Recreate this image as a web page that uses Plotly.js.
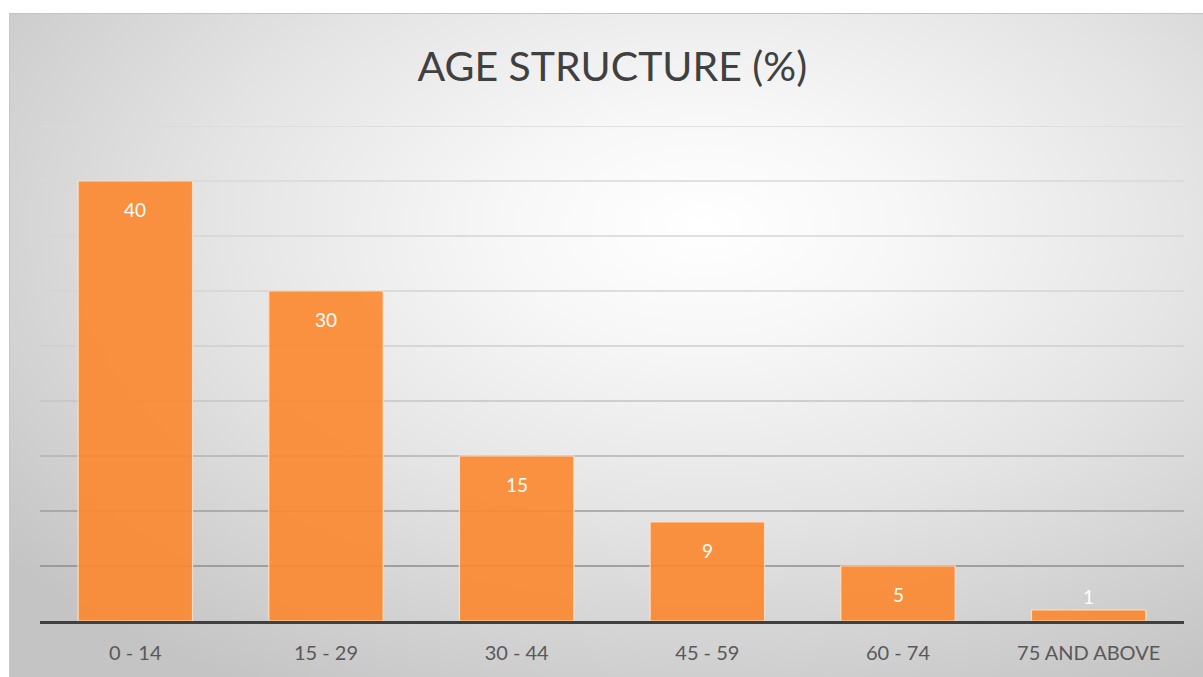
<!DOCTYPE html>
<html>
<head>
<meta charset="utf-8">
<script src="https://cdn.plot.ly/plotly-3.0.1.min.js"></script>
<style>
  html, body { margin: 0; padding: 0; background: #ffffff; }
  #wrap { position: relative; width: 1203px; height: 677px; overflow: hidden; background: #ffffff; }
  #bg { position: absolute; left: 9px; top: 13px; width: 1194px; height: 664px;
        border-top: 1px solid #c4c4c4; border-left: 1px solid #c8c8c8;
        background: radial-gradient(ellipse 75% 80% at 58% 32%, #ffffff 0%, #f7f7f7 22%, #e4e4e4 55%, #cbcbcb 90%, #c4c4c4 100%); }
  #chart { position: absolute; left: 0; top: 0; width: 1203px; height: 677px; }
</style>
</head>
<body>
<div id="wrap">
  <div id="bg"></div>
  <div id="chart"></div>
</div>
<script>
const categories = ["0 - 14", "15 - 29", "30 - 44", "45 - 59", "60 - 74", "75 AND ABOVE"];
const values = [40, 30, 15, 9, 5, 1];
const gridTicks = [5, 10, 15, 20, 25, 30, 35, 40, 45];
const gridColors = ["#8c8c8c", "#9e9e9e", "#b2b2b2", "#c4c4c4", "#cecece", "#d4d4d4", "#d6d6d6", "#d8d8d8", "#dadada"];

const FONT = "Lato, 'Open Sans', sans-serif";

const trace = {
  type: "bar",
  x: categories,
  y: values,
  marker: { color: "rgba(252,135,46,0.9)", line: { color: "rgba(255,225,200,0.9)", width: 1.2 } },
  hoverinfo: "x+y"
};

const shapes = gridTicks.map((t, i) => ({
  type: "line", xref: "paper", yref: "y", x0: 0, x1: 1, y0: t, y1: t,
  line: { color: gridColors[i], width: 1.3 }, layer: "below"
}));

const annotations = values.map((v, i) => ({
  x: categories[i], y: v, xref: "x", yref: "y",
  text: String(v), showarrow: false,
  font: { family: FONT, size: 19, color: "#ffffff" },
  yanchor: "middle",
  yshift: v >= 3 ? -28 : 14
}));

const layout = {
  width: 1203, height: 677,
  paper_bgcolor: "rgba(0,0,0,0)",
  plot_bgcolor: "rgba(0,0,0,0)",
  margin: { l: 40, r: 19, t: 126, b: 56 },
  bargap: 0.4,
  showlegend: false,
  title: {
    text: "AGE STRUCTURE (%)",
    font: { family: FONT, size: 41, color: "#404040" },
    x: 0.509, xanchor: "center",
    y: 1 - 67 / 677, yref: "container", yanchor: "middle"
  },
  xaxis: {
    type: "category",
    showline: true, linecolor: "#404040", linewidth: 3,
    ticks: "", showgrid: false,
    tickfont: { family: FONT, size: 20, color: "#595959" },
    ticklabelstandoff: 12,
    fixedrange: true
  },
  yaxis: {
    range: [0, 45], dtick: 5,
    showgrid: false, zeroline: false, showticklabels: false, ticks: "",
    fixedrange: true
  },
  shapes: shapes,
  annotations: annotations
};

Plotly.newPlot("chart", [trace], layout, { displayModeBar: false, staticPlot: true });
</script>
</body>
</html>
